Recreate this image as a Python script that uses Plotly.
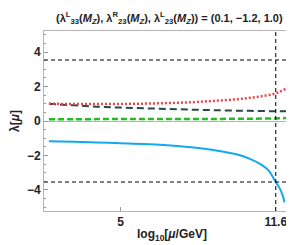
import numpy as np
import plotly.graph_objects as go

# ---- data ----
log_mu = [1.96, 3.0, 4.0, 5.0, 6.0, 7.0, 8.0, 9.0, 10.0, 10.5, 11.0, 11.5, 11.8, 12.0, 12.2, 12.3, 12.4, 12.44, 12.47]
lam_red = [1.00, 0.99, 0.99, 0.99, 1.01, 1.04, 1.09, 1.17, 1.27, 1.35, 1.44, 1.57, 1.72, 1.86, 2.08, 2.3, 2.75, 3.3, 4.5]
lam_black = [1.00, 0.91, 0.83, 0.78, 0.74, 0.70, 0.66, 0.63, 0.60, 0.59, 0.58, 0.57, 0.57, 0.56, 0.56, 0.56, 0.56, 0.56, 0.56]
lam_green = [0.10, 0.10, 0.11, 0.11, 0.11, 0.12, 0.12, 0.12, 0.13, 0.13, 0.14, 0.15, 0.16, 0.17, 0.20, 0.23, 0.30, 0.40, 0.55]

log_mu_blue = [1.96, 3.0, 4.0, 5.0, 6.0, 7.0, 8.0, 9.0, 10.0, 10.5, 11.0, 11.3, 11.6, 11.8, 11.9, 11.97]
lam_blue = [-1.18, -1.21, -1.25, -1.29, -1.33, -1.41, -1.53, -1.7, -1.96, -2.2, -2.55, -2.88, -3.545, -4.0, -4.35, -4.72]

x_ticks = [5, 11.6]
x_tick_labels = ["5", "11.6"]
y_ticks = [-4, -2, 0, 2, 4]
x_marker = 11.6
pert_bound = float(np.sqrt(4 * np.pi))

FONT = "Liberation Sans, Arial, sans-serif"

fig = go.Figure()

fig.add_trace(go.Scatter(x=log_mu_blue, y=lam_blue, mode="lines",
                         line=dict(color="#12A9F2", width=2, shape="spline")))
fig.add_trace(go.Scatter(x=log_mu, y=lam_black, mode="lines",
                         line=dict(color="#264848", width=2, dash="7px,4px", shape="spline")))
fig.add_trace(go.Scatter(x=log_mu, y=lam_green, mode="lines",
                         line=dict(color="#22BB22", width=2.5, dash="6px,3px", shape="spline")))
fig.add_trace(go.Scatter(x=log_mu, y=lam_red, mode="lines",
                         line=dict(color="#E4474F", width=2.5, dash="2px,2px", shape="spline")))

for yv in (pert_bound, -pert_bound):
    fig.add_hline(y=yv, line=dict(color="black", width=1, dash="4px,3px"))
fig.add_vline(x=x_marker, line=dict(color="black", width=1, dash="4px,3px"))

axis_common = dict(
    showline=True, linecolor="#b4b4b4", linewidth=1, mirror=True,
    showgrid=False, ticks="inside", tickcolor="#999999",
    tickfont=dict(family=FONT, size=12, color="#222222", weight="bold"),
)

fig.update_layout(
    width=294, height=245,
    margin=dict(l=36, r=2, t=23, b=42),
    plot_bgcolor="white", paper_bgcolor="white",
    showlegend=False,
    xaxis=dict(range=[1.75, 12.63], tickvals=x_ticks, ticktext=x_tick_labels,
               ticklen=4, zeroline=False,
               title=dict(text="log<sub>10</sub>[<i>μ</i>/GeV]", standoff=1,
                          font=dict(family=FONT, size=12, color="#222222", weight="bold")),
               **axis_common),
    yaxis=dict(range=[-5.23, 5.23], tickvals=y_ticks, ticklen=4,
               zeroline=True, zerolinecolor="#b4b4b4", zerolinewidth=1,
               minor=dict(dtick=0.5, ticklen=2, ticks="inside", tickcolor="#999999"),
               title=dict(text="λ[<i>μ</i>]", standoff=4,
                          font=dict(family=FONT, size=12, color="#222222", weight="bold")),
               **axis_common),
    annotations=[dict(
        text="<b>(λ<sup>L</sup><sub>33</sub>(<i>M<sub>Z</sub></i>), λ<sup>R</sup><sub>23</sub>(<i>M<sub>Z</sub></i>), "
             "λ<sup>L</sup><sub>23</sub>(<i>M<sub>Z</sub></i>)) = (0.1, −1.2, 1.0)</b>",
        xref="paper", yref="paper", x=0.49, y=1.0, yshift=3, xanchor="center", yanchor="bottom",
        showarrow=False, font=dict(family=FONT, size=11, color="#222222"),
    )],
)

fig.write_html("out.html")
